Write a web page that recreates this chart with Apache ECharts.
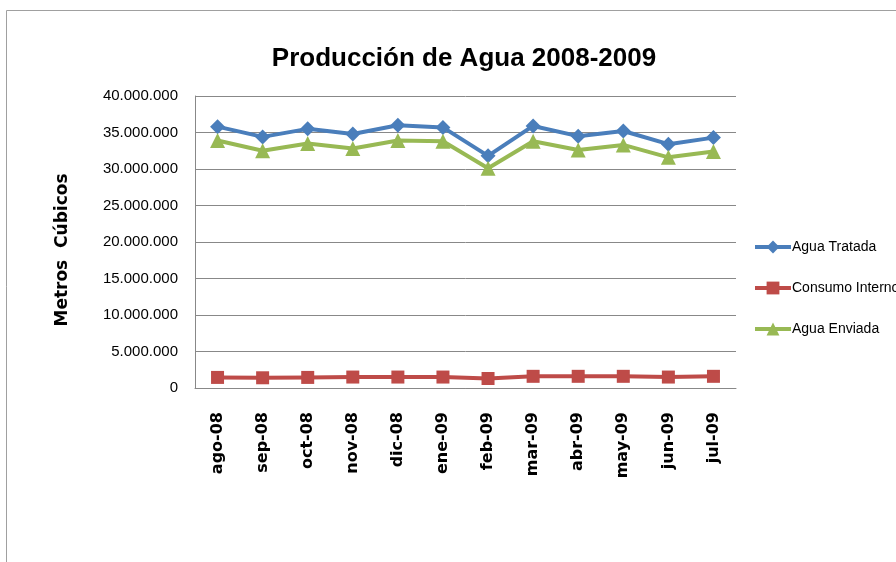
<!DOCTYPE html>
<html><head><meta charset="utf-8">
<script src="https://cdn.jsdelivr.net/npm/echarts@6/dist/echarts.min.js"></script>
<style>html,body{margin:0;padding:0;background:#fff}#c{width:896px;height:562px}</style>
</head><body><div id="c"></div>
<script>
const categories = ['ago-08','sep-08','oct-08','nov-08','dic-08','ene-09','feb-09','mar-09','abr-09','may-09','jun-09','jul-09'];
const aguaTratada = [35800000,34400000,35500000,34800000,36000000,35700000,31800000,35900000,34500000,35200000,33400000,34300000];
const consumoInterno = [1450000,1400000,1450000,1500000,1500000,1500000,1300000,1600000,1600000,1600000,1500000,1600000];
const aguaEnviada = [33900000,32500000,33500000,32800000,33900000,33800000,30100000,33800000,32600000,33300000,31600000,32400000];
const seriesNames = ['Agua Tratada','Consumo Interno','Agua Enviada'];
const yTicks = {min:0,max:40000000,interval:5000000};

const sans = '"Liberation Sans",Arial,sans-serif';
const wide = '"DejaVu Sans",sans-serif';
function fmt(v){return String(v).replace(/\B(?=(\d{3})+(?!\d))/g,'.');}

const chart = echarts.init(document.getElementById('c'));
chart.setOption({
  animation:false,
  backgroundColor:'#fff',
  graphic:[{type:'rect',shape:{x:6.5,y:10.5,width:1000,height:1000},style:{fill:'none',stroke:'#a0a0a0',lineWidth:1},silent:true}],
  title:{text:'Producción de Agua 2008-2009',left:459,top:41,textAlign:'center',
    textStyle:{fontFamily:sans,fontWeight:'bold',fontSize:26,color:'#000'}},
  legend:{orient:'vertical',left:748,top:235,itemGap:27,itemWidth:36,itemHeight:16,
    data:seriesNames,lineStyle:{width:4},
    textStyle:{fontFamily:sans,fontSize:14,color:'#000',padding:[0,0,0,-4]}},
  grid:{left:195,top:96,width:541,height:292,containLabel:false},
  xAxis:{type:'category',data:categories,boundaryGap:true,
    axisLine:{lineStyle:{color:'#888',width:1}},axisTick:{show:false},
    axisLabel:{rotate:90,margin:24,fontFamily:wide,fontWeight:'bold',fontSize:16,color:'#000'}},
  yAxis:{type:'value',min:yTicks.min,max:yTicks.max,interval:yTicks.interval,
    name:'Metros  Cúbicos',nameLocation:'middle',nameGap:124,nameRotate:90,
    nameTextStyle:{fontFamily:wide,fontWeight:'bold',fontSize:17,color:'#000',padding:[0,0,0,-16]},
    axisLine:{show:true,lineStyle:{color:'#888',width:1}},axisTick:{show:false},
    splitLine:{lineStyle:{color:'#888',width:1}},
    axisLabel:{formatter:fmt,margin:17,fontFamily:sans,fontSize:15,color:'#000'}},
  series:[
    {name:seriesNames[0],type:'line',data:aguaTratada,symbol:'diamond',symbolSize:15,
      lineStyle:{width:4,color:'#4A7EBB'},itemStyle:{color:'#4A7EBB'}},
    {name:seriesNames[1],type:'line',data:consumoInterno,symbol:'rect',symbolSize:13,
      lineStyle:{width:4,color:'#BE4B48'},itemStyle:{color:'#BE4B48'}},
    {name:seriesNames[2],type:'line',data:aguaEnviada,symbol:'triangle',symbolSize:15,
      lineStyle:{width:4,color:'#98B954'},itemStyle:{color:'#98B954'}}
  ]
});
</script></body></html>
